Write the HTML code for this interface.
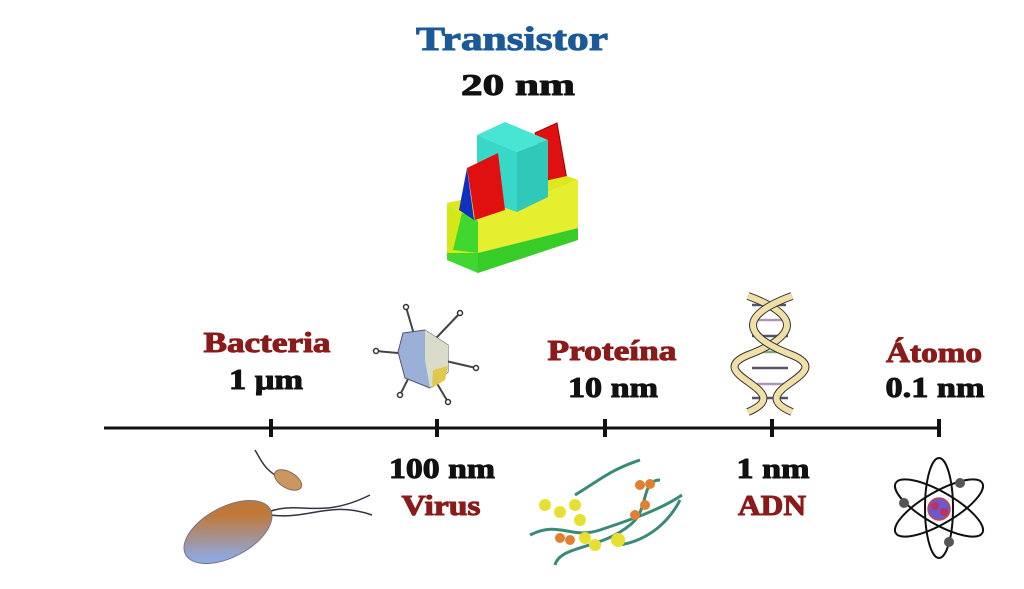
<!DOCTYPE html>
<html><head><meta charset="utf-8"><style>
html,body{margin:0;padding:0;background:#fff;}
svg{display:block}
text{font-family:"Liberation Serif",serif;font-weight:bold;text-anchor:middle;stroke-width:1;stroke-linejoin:round}
.r{fill:#8b1a1a;stroke:#8b1a1a;font-size:28px}
.k{fill:#111;stroke:#111;font-size:28px}
</style></head><body>
<svg width="1024" height="589" viewBox="0 0 1024 589" xmlns="http://www.w3.org/2000/svg">
<text x="512" y="50" style="fill:#1b5a96;stroke:#1b5a96;font-size:34px" textLength="192" lengthAdjust="spacingAndGlyphs">Transistor</text>
<text x="518" y="95" class="k" style="font-size:31px" textLength="114" lengthAdjust="spacingAndGlyphs">20 nm</text>

<!-- transistor -->
<polygon points="535,133 557,123 567,180 550,187" fill="#e01010" stroke="#900" stroke-width="1"/>
<polygon points="447,205 478,220 578,180 567,176 447,203" fill="#dde820"/>
<polygon points="447,205 478,220 478,253 447,253" fill="#d4e818"/>
<polygon points="478,220 578,180 578,228 478,253" fill="#e6ee30"/>
<polygon points="447,253 478,253 478,273 447,260" fill="#40d830"/>
<polygon points="478,253 578,228 578,240 478,273" fill="#38cc28"/>
<polygon points="453,250 462,213 473,216 478,222 478,253" fill="#40d830"/>
<polygon points="477,135 505,122 548,140 517,152" fill="#48e4d4"/>
<polygon points="477,135 517,152 517,212 477,198" fill="#38d8c8"/>
<polygon points="517,152 548,140 548,197 517,212" fill="#30c8b8"/>
<polygon points="459,210 467,168 474,220" fill="#1030c0"/>
<polygon points="467,168 498,153 505,210 475,220" fill="#e01010"/>

<!-- axis -->
<line x1="104" y1="428" x2="941" y2="428" stroke="#111" stroke-width="3"/>
<g stroke="#111" stroke-width="4">
<line x1="271" y1="419" x2="271" y2="437"/><line x1="437" y1="419" x2="437" y2="437"/>
<line x1="605" y1="419" x2="605" y2="437"/><line x1="772" y1="419" x2="772" y2="437"/>
<line x1="939" y1="419" x2="939" y2="437"/></g>

<text x="267" y="352" class="r" textLength="127" lengthAdjust="spacingAndGlyphs">Bacteria</text>
<text x="266" y="389" class="k" textLength="74" lengthAdjust="spacingAndGlyphs">1 μm</text>
<text x="612" y="360" class="r" textLength="129" lengthAdjust="spacingAndGlyphs">Proteína</text>
<text x="613" y="397" class="k" textLength="90" lengthAdjust="spacingAndGlyphs">10 nm</text>
<text x="934" y="362" class="r" textLength="96" lengthAdjust="spacingAndGlyphs">Átomo</text>
<text x="935" y="397" class="k" textLength="99" lengthAdjust="spacingAndGlyphs">0.1 nm</text>
<text x="442" y="478" class="k" textLength="106" lengthAdjust="spacingAndGlyphs">100 nm</text>
<text x="441" y="515" class="r" textLength="79" lengthAdjust="spacingAndGlyphs">Virus</text>
<text x="773" y="478" class="k" textLength="73" lengthAdjust="spacingAndGlyphs">1 nm</text>
<text x="772" y="515" class="r" textLength="68" lengthAdjust="spacingAndGlyphs">ADN</text>

<!-- virus -->
<g stroke="#444" stroke-width="2" fill="none">
<line x1="420" y1="355" x2="376" y2="351"/><line x1="420" y1="355" x2="406" y2="307"/>
<line x1="420" y1="355" x2="460" y2="313"/><line x1="420" y1="355" x2="476" y2="368"/>
<line x1="420" y1="355" x2="448" y2="402"/><line x1="420" y1="355" x2="400" y2="395"/>
</g>
<g fill="#fff" stroke="#333" stroke-width="1.5">
<circle cx="376" cy="351" r="2.5"/><circle cx="406" cy="307" r="2.5"/><circle cx="460" cy="313" r="2.5"/>
<circle cx="476" cy="368" r="2.5"/><circle cx="448" cy="402" r="2.5"/><circle cx="400" cy="395" r="2.5"/></g>
<polygon points="403,333 425,330 448,345 448,372 430,388 405,378 398,352" fill="#9ab0d8" stroke="#556" stroke-width="1"/>
<polygon points="425,330 448,345 448,372 430,388 425,360" fill="#d8dcc8"/>
<polygon points="433,370 448,366 445,380 432,388" fill="#e0c850"/>

<!-- DNA -->
<g stroke-width="2.5">
<line x1="752" y1="305" x2="786" y2="305" stroke="#556"/><line x1="750" y1="320" x2="790" y2="320" stroke="#a9b"/>
<line x1="752" y1="336" x2="788" y2="336" stroke="#556"/><line x1="752" y1="352" x2="788" y2="352" stroke="#8a7"/>
<line x1="752" y1="368" x2="788" y2="368" stroke="#556"/><line x1="752" y1="384" x2="788" y2="384" stroke="#a9b"/>
<line x1="752" y1="398" x2="788" y2="398" stroke="#556"/></g>
<path d="M748,296 C800,315 800,335 748,355 C700,375 800,390 748,412" fill="none" stroke="#333" stroke-width="8"/>
<path d="M748,296 C800,315 800,335 748,355 C700,375 800,390 748,412" fill="none" stroke="#f0e0a8" stroke-width="6"/>
<path d="M792,296 C740,315 740,335 792,355 C840,375 740,390 792,412" fill="none" stroke="#333" stroke-width="8"/>
<path d="M792,296 C740,315 740,335 792,355 C840,375 740,390 792,412" fill="none" stroke="#f0e0a8" stroke-width="6"/>

<!-- bacteria -->
<defs><linearGradient id="bg" x1="0" y1="1" x2="1" y2="0"><stop offset="0.2" stop-color="#8fa8e0"/><stop offset="0.7" stop-color="#c07838"/></linearGradient></defs>
<g fill="none" stroke="#334" stroke-width="1.5">
<path d="M268,512 C300,500 320,520 370,495"/><path d="M270,515 C310,520 330,500 372,515"/>
<path d="M280,478 C265,470 262,462 255,450"/></g>
<ellipse cx="228" cy="532" rx="48" ry="25" transform="rotate(-28 228 532)" fill="url(#bg)" stroke="#778" stroke-width="1"/>
<ellipse cx="288" cy="480" rx="15" ry="8" transform="rotate(30 288 480)" fill="#c89860" stroke="#865" stroke-width="1"/>

<!-- protein -->
<g fill="none" stroke="#3a8a7a" stroke-width="3">
<path d="M530,535 C560,520 570,540 600,530 C630,520 660,510 682,495"/>
<path d="M555,565 C560,545 600,550 630,525 C650,510 640,480 660,480"/>
<path d="M575,495 C600,480 610,470 640,460"/>
<path d="M620,545 C650,540 670,520 680,500"/></g>
<g fill="#e8e030"><circle cx="545" cy="505" r="6"/><circle cx="560" cy="512" r="6"/><circle cx="575" cy="505" r="6"/>
<circle cx="580" cy="520" r="6"/><circle cx="585" cy="538" r="6"/><circle cx="595" cy="545" r="6"/><circle cx="618" cy="540" r="7"/></g>
<g fill="#e08030"><circle cx="560" cy="538" r="5"/><circle cx="570" cy="540" r="5"/><circle cx="635" cy="515" r="5"/><circle cx="645" cy="505" r="5"/><circle cx="640" cy="485" r="5"/><circle cx="650" cy="484" r="5"/></g>

<!-- atom -->
<g fill="none" stroke="#111" stroke-width="2">
<ellipse cx="939" cy="508" rx="50" ry="16" transform="rotate(30 939 508)"/>
<ellipse cx="939" cy="508" rx="50" ry="16" transform="rotate(-30 939 508)"/>
<ellipse cx="939" cy="508" rx="14" ry="50"/></g>
<circle cx="939" cy="509" r="11" fill="#6a5acd" stroke="#c44" stroke-width="1.5"/>
<circle cx="935" cy="506" r="4" fill="#c03060"/><circle cx="944" cy="512" r="4" fill="#c03060"/>
<g fill="#555"><circle cx="904" cy="503" r="5"/><circle cx="960" cy="483" r="5"/><circle cx="949" cy="542" r="5"/></g>
</svg>
</body></html>
